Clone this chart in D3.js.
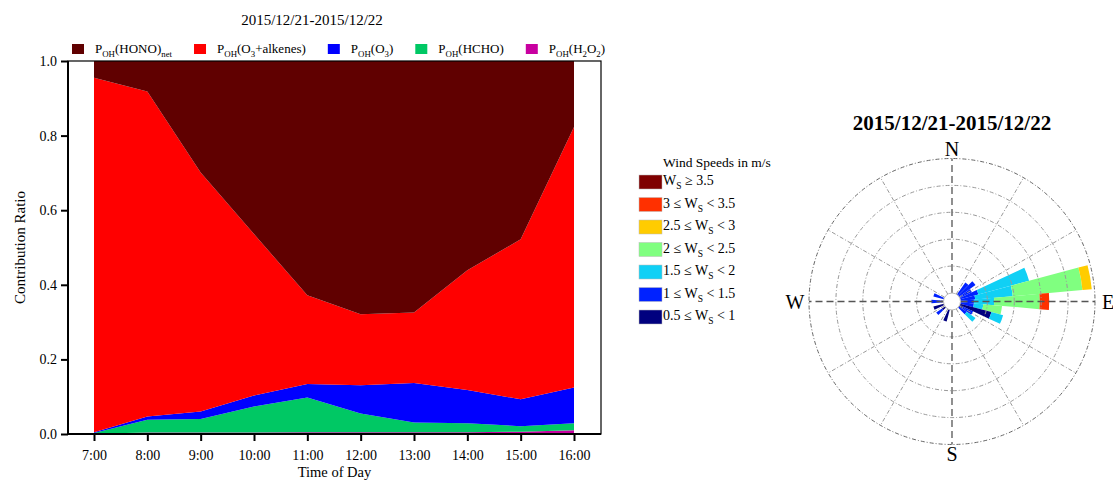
<!DOCTYPE html>
<html>
<head>
<meta charset="utf-8">
<script src="https://cdn.jsdelivr.net/npm/d3@7"></script>
<style>
  body { margin: 0; background: #fff; }
  svg { font-family: "Liberation Serif", "Times New Roman", serif; }
</style>
</head>
<body>
<svg id="canvas" width="1113" height="480"></svg>
<script>
// ---- left chart: contribution ratios per hour (bottom -> top of stack)
const hours = [7, 8, 9, 10, 11, 12, 13, 14, 15, 16];
const pH2O2 = [0.001, 0.004, 0.004, 0.004, 0.005, 0.005, 0.005, 0.005, 0.006, 0.010];
const pHCHO = [0.002, 0.034, 0.036, 0.070, 0.093, 0.050, 0.026, 0.024, 0.015, 0.019];
const pO3 = [0.002, 0.009, 0.020, 0.029, 0.036, 0.076, 0.106, 0.089, 0.072, 0.096];
const pO3Alkenes = [0.950, 0.871, 0.641, 0.433, 0.238, 0.190, 0.189, 0.321, 0.429, 0.698];
const pHONO = [0.045, 0.082, 0.299, 0.464, 0.628, 0.679, 0.674, 0.561, 0.478, 0.177];
const yTicks = [0.0, 0.2, 0.4, 0.6, 0.8, 1.0];

// ---- wind rose: frequency (%) per direction bin and speed class
const windDirs = [40, 50, 60, 70, 80, 90, 100, 110, 120, 130, 200, 230, 250, 270, 290];
const ws05 = [0, 0, 0, 0, 0, 0, 0, 2.4, 0.3, 0, 0.9, 0.3, 0.8, 0.2, 0];
const ws10 = [1.1, 1.5, 1.0, 1.4, 1.1, 1.0, 1.0, 0, 0.8, 0.7, 0, 0.5, 0, 0.7, 0.8];
const ws15 = [0, 0, 0, 3.9, 2.8, 1.5, 0.7, 0.9, 0, 0.8, 0, 0, 0, 0, 0];
const ws20 = [0, 0, 0, 0, 5.2, 3.4, 1.4, 0, 0, 0, 0, 0, 0, 0, 0];
const ws25 = [0, 0, 0, 0, 0.7, 0, 0, 0, 0, 0, 0, 0, 0, 0, 0];
const ws30 = [0, 0, 0, 0, 0, 0.7, 0, 0, 0, 0, 0, 0, 0, 0, 0];
const ws35 = [0, 0, 0, 0, 0, 0, 0, 0, 0, 0, 0, 0, 0, 0, 0];
const roseRings = [2, 4, 6, 8, 10];
const title = "2015/12/21-2015/12/22";

const svg = d3.select("#canvas");

// helper: text made of segments, some of them subscripts
function richText(sel, segs, size) {
  segs.forEach((s, i) => {
    const sub = s[1] === "sub";
    const prevSub = i > 0 && segs[i - 1][1] === "sub";
    let dy = 0;
    if (sub && !prevSub) dy = size * 0.3;
    if (!sub && prevSub) dy = -size * 0.3;
    sel.append("tspan")
      .attr("dy", dy)
      .attr("font-size", sub ? size * 0.68 : size)
      .text(s[0]);
  });
}

// ================= left chart =================
const L = { left: 68, right: 601, top: 61, bottom: 434 };
const x = d3.scaleLinear().domain([7, 16]).range([94, 574]);
const y = d3.scaleLinear().domain([0, 1]).range([L.bottom, L.top]);

const keys = ["H2O2", "HCHO", "O3", "O3Alkenes", "HONO"];
const colors = { HONO: "#600000", O3Alkenes: "#ff0000", O3: "#0000ff", HCHO: "#00c864", H2O2: "#c800a0" };
const rows = hours.map((h, i) => ({
  hour: h, H2O2: pH2O2[i], HCHO: pHCHO[i], O3: pO3[i], O3Alkenes: pO3Alkenes[i], HONO: pHONO[i]
}));
const series = d3.stack().keys(keys)(rows);
const area = d3.area()
  .x(d => x(d.data.hour))
  .y0(d => y(d[0]))
  .y1(d => y(d[1]));

svg.append("g").selectAll("path")
  .data(series)
  .join("path")
  .attr("fill", d => colors[d.key])
  .attr("d", area);

// frame
svg.append("rect")
  .attr("x", L.left).attr("y", L.top)
  .attr("width", L.right - L.left).attr("height", L.bottom - L.top)
  .attr("fill", "none").attr("stroke", "#000").attr("stroke-width", 1.2);

const yAxis = svg.append("g")
  .attr("transform", `translate(${L.left},0)`)
  .call(d3.axisLeft(y).tickValues(yTicks).tickFormat(d3.format(".1f")).tickSize(7).tickPadding(4));
const xAxis = svg.append("g")
  .attr("transform", `translate(0,${L.bottom})`)
  .call(d3.axisBottom(x).tickValues(hours).tickFormat(d => d + ":00").tickSize(7).tickPadding(9));
[yAxis, xAxis].forEach(g => {
  g.select(".domain").remove();
  g.selectAll("line").attr("stroke", "#000").attr("stroke-width", 2);
  g.selectAll("text").attr("font-family", "Liberation Serif").attr("font-size", 14).attr("fill", "#000");
});
svg.append("line").attr("x1", L.left).attr("x2", L.left).attr("y1", L.top).attr("y2", L.bottom)
  .attr("stroke", "#000").attr("stroke-width", 2);
svg.append("line").attr("x1", L.left).attr("x2", L.right).attr("y1", L.bottom).attr("y2", L.bottom)
  .attr("stroke", "#000").attr("stroke-width", 2);

svg.append("text")
  .attr("transform", `translate(22,${(L.top + L.bottom) / 2}) rotate(-90)`)
  .attr("text-anchor", "middle").attr("dominant-baseline", "middle")
  .attr("font-size", 15).text("Contribution Ratio");
svg.append("text")
  .attr("x", (L.left + L.right) / 2).attr("y", 477)
  .attr("text-anchor", "middle").attr("font-size", 14.5).text("Time of Day");
svg.append("text")
  .attr("x", 312).attr("y", 25)
  .attr("text-anchor", "middle").attr("font-size", 15).text(title);

// left legend
const legendItems = [
  { key: "HONO", segs: [["P"], ["OH", "sub"], ["(HONO)"], ["net", "sub"]] },
  { key: "O3Alkenes", segs: [["P"], ["OH", "sub"], ["(O"], ["3", "sub"], ["+alkenes)"]] },
  { key: "O3", segs: [["P"], ["OH", "sub"], ["(O"], ["3", "sub"], [")"]] },
  { key: "HCHO", segs: [["P"], ["OH", "sub"], ["(HCHO)"]] },
  { key: "H2O2", segs: [["P"], ["OH", "sub"], ["(H"], ["2", "sub"], ["O"], ["2", "sub"], [")"]] }
];
let lx = 72;
legendItems.forEach(it => {
  svg.append("rect").attr("x", lx).attr("y", 44).attr("width", 12).attr("height", 10)
    .attr("fill", colors[it.key]);
  const t = svg.append("text").attr("x", lx + 23).attr("y", 53).attr("font-size", 13);
  richText(t, it.segs, 13);
  lx += 23 + t.node().getComputedTextLength() + 22;
});

// ================= wind rose =================
const cx = 952, cy = 301.5;
const r = d3.scaleLinear().domain([0, 10]).range([8.5, 143]);
const speedBins = [ws05, ws10, ws15, ws20, ws25, ws30, ws35];
const speedColors = ["#00007f", "#0022ff", "#10d0f5", "#80ff80", "#ffcc00", "#ff3000", "#7f0000"];
const rose = svg.append("g").attr("transform", `translate(${cx},${cy})`);
const arc = d3.arc();
const wedges = [];
windDirs.forEach((dir, i) => {
  let acc = 0;
  speedBins.forEach((bin, b) => {
    const v = bin[i];
    if (v > 0) {
      wedges.push({ dir, b, r0: r(acc), r1: r(acc + v) });
      acc += v;
    }
  });
});
rose.selectAll("path.wedge")
  .data(wedges)
  .join("path")
  .attr("class", "wedge")
  .attr("fill", d => speedColors[d.b])
  .attr("d", d => arc({
    innerRadius: d.r0, outerRadius: d.r1,
    startAngle: (d.dir - 5) * Math.PI / 180, endAngle: (d.dir + 5) * Math.PI / 180
  }));

// rings and spokes drawn over the bars
rose.selectAll("circle.ring")
  .data(roseRings)
  .join("circle")
  .attr("class", "ring")
  .attr("r", d => r(d))
  .attr("fill", "none")
  .attr("stroke", (d, i) => i === roseRings.length - 1 ? "#666" : "#999")
  .attr("stroke-width", 1)
  .attr("stroke-dasharray", "4,2,1,2");
const spokes = d3.range(0, 360, 30);
rose.selectAll("line.spoke")
  .data(spokes)
  .join("line")
  .attr("class", "spoke")
  .attr("x1", d => r(0) * Math.sin(d * Math.PI / 180))
  .attr("y1", d => -r(0) * Math.cos(d * Math.PI / 180))
  .attr("x2", d => r(10) * Math.sin(d * Math.PI / 180))
  .attr("y2", d => -r(10) * Math.cos(d * Math.PI / 180))
  .attr("stroke", d => d % 90 === 0 ? "#555" : "#999")
  .attr("stroke-width", d => d % 90 === 0 ? 1.3 : 1)
  .attr("stroke-dasharray", d => d % 90 === 0 ? "7,4" : "4,2,1,2");
rose.append("circle").attr("r", r(0)).attr("fill", "#fff").attr("stroke", "#bbb");

svg.append("text").attr("x", cx).attr("y", 130).attr("text-anchor", "middle")
  .attr("font-size", 21).attr("font-weight", "bold").text(title);
const compass = [["N", 0, -153], ["S", 0, 152], ["W", -157, 0], ["E", 156, 0]];
compass.forEach(c => {
  svg.append("text").attr("x", cx + c[1]).attr("y", cy + c[2])
    .attr("text-anchor", "middle").attr("dominant-baseline", "central")
    .attr("font-size", 20).text(c[0]);
});

// wind legend
const windLabels = [
  [["W"], ["S", "sub"], [" \u2265 3.5"]],
  [["3 \u2264 W"], ["S", "sub"], [" < 3.5"]],
  [["2.5 \u2264 W"], ["S", "sub"], [" < 3"]],
  [["2 \u2264 W"], ["S", "sub"], [" < 2.5"]],
  [["1.5 \u2264 W"], ["S", "sub"], [" < 2"]],
  [["1 \u2264 W"], ["S", "sub"], [" < 1.5"]],
  [["0.5 \u2264 W"], ["S", "sub"], [" < 1"]]
];
svg.append("text").attr("x", 663).attr("y", 167).attr("font-size", 13.5).text("Wind Speeds in m/s");
windLabels.forEach((segs, i) => {
  const yy = 182 + i * 22.5;
  svg.append("rect").attr("x", 639).attr("y", yy - 7).attr("width", 23).attr("height", 14)
    .attr("fill", speedColors[6 - i]).attr("stroke", "#bbb").attr("stroke-width", 0.5);
  const t = svg.append("text").attr("x", 663).attr("y", yy + 3).attr("font-size", 14);
  richText(t, segs, 14);
});
</script>
</body>
</html>
